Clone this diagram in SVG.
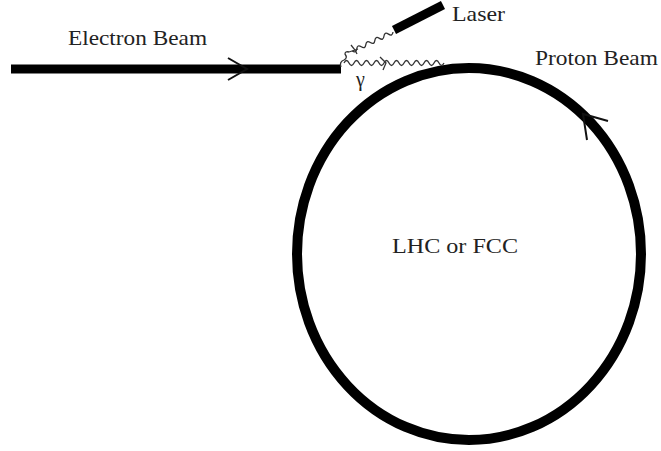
<svg xmlns="http://www.w3.org/2000/svg" width="661" height="451" viewBox="0 0 661 451">
<style>
.t{font-family:"Liberation Serif","Times New Roman",serif;font-size:22px;fill:#222}
.beam{stroke:#000;fill:none}
.chev{stroke:#111;stroke-width:2;fill:none}
.wave{stroke:#333;stroke-width:1.3;fill:none}
</style>
<rect width="661" height="451" fill="#fff"/>
<g id="ring">
<ellipse cx="469" cy="254" rx="172" ry="186" class="beam" stroke-width="10"/>
<path class="chev" d="M608 121 L583 114 L587 140"/>
</g>
<g id="electron-beam">
<line x1="11" y1="69" x2="341" y2="69" class="beam" stroke-width="9"/>
<path class="chev" d="M228 58 L247 69 L228 80"/>
</g>
<g id="laser">
<line x1="394" y1="30" x2="443" y2="5" class="beam" stroke-width="9"/>
</g>
<g id="photons">
<path class="wave" transform="translate(393,32) rotate(155)" d="M0 0 q2.5 -4 5 0 t5 0 t5 0 t5 0 t5 0 t5 0 t5 0 t5 0 t5 0"/>
<path class="wave" d="M341 67 q-2 -5 3 -7 q4 -2 1 -6 q0 -3 4 -2"/>
<path class="wave" d="M351 45 L355 50 L357 54 M349 52 L358 49"/>
<path class="wave" d="M344 63 q2.5 -5 5 0 t5 0 t5 0 t5 0 t5 0 t5 0 t5 0 t5 0 t5 0 t5 0 t5 0 t5 0 t5 0 t5 0 t5 0 t5 0 t5 0 t5 0 t5 0 t5 0"/>
<path class="wave" d="M380 57 L386 63 L383 70"/>
</g>
<g id="labels">
<text class="t" x="68" y="45" textLength="139" lengthAdjust="spacingAndGlyphs">Electron Beam</text>
<text class="t" x="452" y="21" textLength="53" lengthAdjust="spacingAndGlyphs">Laser</text>
<text class="t" x="535" y="65" textLength="123" lengthAdjust="spacingAndGlyphs">Proton Beam</text>
<text class="t" x="392" y="253" textLength="126" lengthAdjust="spacingAndGlyphs">LHC or FCC</text>
<text class="t" x="356" y="86" style="font-size:20px">γ</text>
</g>
</svg>
